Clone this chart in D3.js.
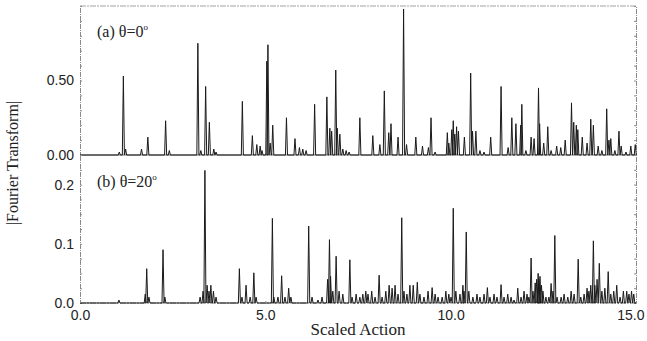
<!DOCTYPE html>
<html>
<head>
<meta charset="utf-8">
<script src="https://cdn.jsdelivr.net/npm/d3@7"></script>
<style>
  html, body { margin: 0; padding: 0; background: #fff; }
  svg { display: block; }
</style>
</head>
<body>
<div id="chart"></div>
<script>
// peak positions (scaled action) and heights
const peaksA_x = [1.06, 1.17, 1.23, 1.66, 1.83, 2.31, 2.41, 3.18, 3.26, 3.39, 3.49, 3.61, 3.67,
  4.38, 4.65, 4.77, 4.86, 4.91, 5.04, 5.07, 5.13, 5.20, 5.57, 5.80, 5.92, 6.01, 6.10, 6.33,
  6.66, 6.74, 6.79, 6.90, 6.94, 7.01, 7.09, 7.18, 7.26, 7.55, 7.90, 8.09, 8.21, 8.33, 8.39,
  8.58, 8.73, 8.81, 9.06, 9.24, 9.40, 9.47, 9.58, 9.91, 9.95, 10.03, 10.07, 10.11, 10.16,
  10.21, 10.37, 10.54, 10.59, 10.68, 10.79, 10.90, 11.08, 11.36, 11.55, 11.65, 11.76, 11.89,
  11.92, 12.03, 12.17, 12.25, 12.37, 12.40, 12.51, 12.62, 12.71, 12.86, 12.97, 13.09, 13.26,
  13.32, 13.39, 13.43, 13.55, 13.68, 13.78, 13.85, 13.98, 14.08, 14.21, 14.27, 14.32, 14.43,
  14.54, 14.60, 14.73, 14.86, 14.98];
const peaksA_y = [0.02, 0.53, 0.04, 0.04, 0.12, 0.23, 0.03, 0.75, 0.03, 0.46, 0.22, 0.04, 0.02,
  0.36, 0.13, 0.07, 0.06, 0.03, 0.63, 0.74, 0.08, 0.20, 0.25, 0.11, 0.05, 0.04, 0.03, 0.34,
  0.39, 0.18, 0.16, 0.57, 0.18, 0.14, 0.04, 0.03, 0.02, 0.25, 0.13, 0.07, 0.43, 0.15, 0.21,
  0.12, 0.98, 0.07, 0.12, 0.06, 0.05, 0.25, 0.02, 0.15, 0.08, 0.17, 0.23, 0.14, 0.19,
  0.16, 0.12, 0.55, 0.16, 0.16, 0.03, 0.02, 0.12, 0.46, 0.05, 0.25, 0.21, 0.20,
  0.34, 0.03, 0.12, 0.11, 0.45, 0.21, 0.08, 0.19, 0.03, 0.06, 0.05, 0.10, 0.35,
  0.22, 0.20, 0.17, 0.12, 0.08, 0.24, 0.20, 0.06, 0.03, 0.31, 0.10, 0.11, 0.03,
  0.16, 0.06, 0.02, 0.06, 0.07];

const peaksB_x = [1.05, 1.76, 1.80, 1.86, 2.24, 2.29, 3.24, 3.32, 3.37, 3.43, 3.48, 3.53, 3.60, 3.67,
  4.30, 4.37, 4.48, 4.59, 4.69, 4.75, 5.19, 5.23, 5.34, 5.44, 5.53, 5.63, 5.69, 6.17, 6.26,
  6.42, 6.53, 6.68, 6.73, 6.76, 6.82, 6.91, 6.99, 7.09, 7.28, 7.34, 7.45, 7.55, 7.63, 7.71,
  7.77, 7.87, 7.96, 8.07, 8.15, 8.25, 8.34, 8.42, 8.50, 8.58, 8.68, 8.74, 8.82, 8.90, 8.99,
  9.10, 9.17, 9.28, 9.39, 9.50, 9.58, 9.66, 9.77, 9.87, 9.95, 10.01, 10.07, 10.14, 10.25,
  10.33, 10.36, 10.42, 10.49, 10.60, 10.71, 10.79, 10.90, 10.99, 11.06, 11.17, 11.25, 11.36,
  11.44, 11.54, 11.63, 11.71, 11.81, 11.90, 11.98, 12.06, 12.11, 12.17, 12.22, 12.28, 12.32,
  12.36, 12.38, 12.41, 12.45, 12.49, 12.57, 12.65, 12.71, 12.76, 12.81, 12.87, 12.98, 13.06,
  13.16, 13.25, 13.33, 13.44, 13.51, 13.60, 13.68, 13.73, 13.78, 13.85, 13.89, 13.95, 14.01,
  14.08, 14.16, 14.25, 14.32, 14.40, 14.48, 14.57, 14.66, 14.75, 14.81, 14.88, 14.94];
const peaksB_y = [0.005, 0.015, 0.058, 0.01, 0.09, 0.01, 0.01, 0.02, 0.224, 0.03, 0.02, 0.03, 0.02, 0.01,
  0.058, 0.01, 0.03, 0.01, 0.051, 0.01, 0.143, 0.01, 0.01, 0.046, 0.01, 0.025, 0.01, 0.13, 0.01,
  0.005, 0.01, 0.04, 0.107, 0.045, 0.02, 0.079, 0.02, 0.015, 0.073, 0.01, 0.015, 0.01, 0.015, 0.02,
  0.015, 0.02, 0.01, 0.047, 0.01, 0.02, 0.03, 0.025, 0.03, 0.015, 0.144, 0.02, 0.015, 0.03, 0.03,
  0.035, 0.015, 0.01, 0.02, 0.026, 0.015, 0.01, 0.01, 0.02, 0.015, 0.01, 0.16, 0.02, 0.015,
  0.03, 0.02, 0.12, 0.02, 0.01, 0.015, 0.01, 0.015, 0.026, 0.01, 0.015, 0.01, 0.031,
  0.01, 0.015, 0.01, 0.005, 0.025, 0.01, 0.02, 0.015, 0.01, 0.076, 0.02, 0.034, 0.04,
  0.05, 0.04, 0.045, 0.03, 0.02, 0.01, 0.01, 0.033, 0.02, 0.114, 0.01, 0.01, 0.015,
  0.01, 0.02, 0.015, 0.074, 0.01, 0.015, 0.025, 0.02, 0.03, 0.105, 0.03, 0.04, 0.067,
  0.02, 0.025, 0.053, 0.015, 0.02, 0.03, 0.01, 0.02, 0.02, 0.015, 0.02, 0.015];

const xTicks = [0, 5, 10, 15];
const yTicksA = [0, 0.5];
const yTicksB = [0, 0.1, 0.2];

const W = 647, H = 341;
const left = 80, right = 636;
const panels = [
  { px: peaksA_x, py: peaksA_y, top: 6, bottom: 155, max: 1.0, ticks: yTicksA, fmt: '.2f', minor: 0.1,
    label: ['(a) θ=0', 'o'], ly: 37 },
  { px: peaksB_x, py: peaksB_y, top: 155, bottom: 303, max: 0.25, ticks: yTicksB, fmt: '.1f', minor: 0.025,
    label: ['(b) θ=20', 'o'], ly: 187 }
];

const svg = d3.select('#chart').append('svg')
  .attr('width', W)
  .attr('height', H);

const x = d3.scaleLinear().domain([0, 15]).range([left, right]);
const frameColor = '#8a8a8a';
const halfW = 0.028;

panels.forEach((p, i) => {
  const y = d3.scaleLinear().domain([0, p.max]).range([p.bottom, p.top]);

  // frame: top line (only for the first panel)
  if (i === 0) {
    svg.append('line')
      .attr('x1', left).attr('x2', right)
      .attr('y1', p.top).attr('y2', p.top)
      .attr('stroke', frameColor).attr('stroke-width', 0.8)
      .attr('stroke-dasharray', '6,1,2,1');
  }

  // left axis with inward minor ticks
  svg.append('g')
    .attr('transform', `translate(${left},0)`)
    .call(d3.axisRight(y).tickValues(d3.range(0, p.max + 1e-9, p.minor)).tickSize(2).tickFormat(''))
    .call(g => g.selectAll('line').attr('stroke', frameColor))
    .call(g => g.select('.domain').attr('stroke', frameColor).attr('stroke-dasharray', '5,1,1,1'));

  // right axis with inward minor ticks
  svg.append('g')
    .attr('transform', `translate(${right},0)`)
    .call(d3.axisLeft(y).tickValues(d3.range(0, p.max + 1e-9, p.minor)).tickSize(2).tickFormat(''))
    .call(g => g.selectAll('line').attr('stroke', frameColor))
    .call(g => g.select('.domain').attr('stroke', frameColor).attr('stroke-dasharray', '5,1,1,1'));

  // tick labels on the left
  svg.append('g')
    .attr('transform', `translate(${left},0)`)
    .call(d3.axisLeft(y).tickValues(p.ticks).tickSize(0).tickPadding(6).tickFormat(d3.format(p.fmt)))
    .call(g => g.select('.domain').remove())
    .call(g => g.selectAll('text')
      .attr('font-family', 'Liberation Sans, Arial, sans-serif')
      .attr('font-size', 14).attr('fill', '#222'));

  // baseline
  svg.append('line')
    .attr('x1', left).attr('x2', right)
    .attr('y1', y(0)).attr('y2', y(0))
    .attr('stroke', '#555').attr('stroke-width', 0.8)
    .attr('stroke-dasharray', i === 1 ? '6,1,2,1' : null);

  // spectrum trace: each peak drawn as a narrow spike
  const order = d3.range(p.px.length).sort((a, b) => p.px[a] - p.px[b]);
  const pts = [[0, 0]];
  order.forEach(k => {
    pts.push([p.px[k] - halfW, 0]);
    pts.push([p.px[k], p.py[k]]);
    pts.push([p.px[k] + halfW, 0]);
  });
  pts.push([15, 0]);

  const line = d3.line()
    .x(d => x(d[0]))
    .y(d => y(d[1]));

  svg.append('path')
    .datum(pts)
    .attr('d', line)
    .attr('fill', 'none')
    .attr('stroke', '#1a1a1a')
    .attr('stroke-width', 1)
    .attr('stroke-linejoin', 'round');

  // panel title
  const t = svg.append('text')
    .attr('x', 97).attr('y', p.ly)
    .attr('font-family', 'Liberation Serif, Times New Roman, serif')
    .attr('font-size', 16)
    .attr('fill', '#222');
  t.append('tspan').text(p.label[0]);
  t.append('tspan').text(p.label[1])
    .attr('font-size', 9).attr('dy', -7);
});

// x axis labels
const yB = d3.scaleLinear().domain([0, 0.25]).range([303, 155]);
svg.append('g')
  .attr('transform', `translate(0,${yB(0)})`)
  .call(d3.axisBottom(x).tickValues(xTicks).tickSize(2).tickPadding(5).tickFormat(d3.format('.1f')))
  .call(g => g.select('.domain').remove())
  .call(g => g.selectAll('line').attr('stroke', frameColor).attr('transform', 'translate(0,-2)'))
  .call(g => g.selectAll('text')
    .attr('font-family', 'Liberation Sans, Arial, sans-serif')
    .attr('font-size', 14).attr('fill', '#222'))
  .call(g => g.selectAll('.tick').filter(d => d === 15).select('text')
    .attr('text-anchor', 'end').attr('dx', 8));

// axis titles
svg.append('text')
  .attr('x', 358).attr('y', 335)
  .attr('text-anchor', 'middle')
  .attr('font-family', 'Liberation Serif, Times New Roman, serif')
  .attr('font-size', 17)
  .attr('fill', '#222')
  .text('Scaled Action');

svg.append('text')
  .attr('transform', 'translate(18,163) rotate(-90)')
  .attr('text-anchor', 'middle')
  .attr('font-family', 'Liberation Serif, Times New Roman, serif')
  .attr('font-size', 16)
  .attr('fill', '#222')
  .text('|Fourier Transform|');
</script>
</body>
</html>
